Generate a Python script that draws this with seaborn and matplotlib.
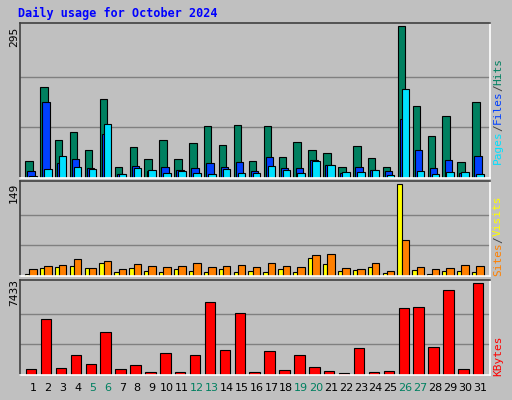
import matplotlib
matplotlib.use("Agg")
import matplotlib.pyplot as plt
import seaborn as sns
import numpy as np

days = list(range(1, 32))
hits = [33,177,73,89,55,153,21,61,37,73,37,67,101,65,103,33,101,41,69,55,49,21,63,39,21,295,139,81,121,31,147]
files = [13,147,29,37,19,85,7,23,13,21,15,19,29,21,31,13,41,19,19,35,25,9,21,15,13,115,55,19,35,9,43]
pages = [3,17,43,21,17,105,7,19,15,9,13,9,7,17,9,9,23,15,9,33,25,11,11,15,5,173,13,7,11,11,7]
visits = [3,13,15,16,13,21,6,13,8,6,11,8,6,11,6,8,6,11,6,29,19,8,10,15,5,149,10,3,8,8,6]
sites = [11,16,18,28,13,24,11,19,16,15,16,21,15,16,18,15,21,16,15,34,36,13,11,21,8,58,15,11,13,18,16]
kbytes = [515,4500,600,1650,920,3440,515,840,270,1735,270,1650,5880,1980,4990,270,1900,430,1650,680,350,190,2140,270,350,5400,5480,2220,6860,515,7433]
weekends = [5,6,12,13,19,20,26,27]

sns.set_style("white")
plt.rcParams['font.family'] = ['DejaVu Sans Mono', 'DejaVu Sans']
BG = '#C0C0C0'
fig = plt.figure(figsize=(5.12, 4.0), dpi=100, facecolor=BG)
W, H = 512, 400
def axes(x0, y0, x1, y1):
    ax = fig.add_axes([x0/W, 1-y1/H, (x1-x0)/W, (y1-y0)/H])
    ax.set_facecolor(BG)
    for s in ax.spines.values():
        s.set_color('#404040'); s.set_linewidth(1.2)
    ax.spines['bottom'].set_color('white'); ax.spines['right'].set_color('white')
    ax.set_xlim(0.13, 31.67)
    ax.set_xticks([]); ax.set_yticks([])
    return ax

x = np.array(days, dtype=float)
ec = dict(edgecolor='black', linewidth=0.8)

ax1 = axes(20, 23, 490, 178)
ax1.set_ylim(0, 295 * 1.02)
for f in (1/3, 2/3):
    ax1.axhline(295*f, color='#808080', lw=1, zorder=0)
ax1.bar(x - 0.27, hits, width=0.5, color='#008060', **ec)
ax1.bar(x - 0.13, files, width=0.5, color='#0040FF', **ec)
ax1.bar(x, pages, width=0.5, color='#00E0FF', **ec)

ax2 = axes(20, 181, 490, 276)
ax2.set_ylim(0, 149 * 1.03)
for f in (1/3, 2/3):
    ax2.axhline(149*f, color='#808080', lw=1, zorder=0)
ax2.bar(x - 0.39, visits, width=0.3, color='#FFFF00', **ec)
ax2.bar(x, sites, width=0.5, color='#FF8000', **ec)

ax3 = axes(20, 280, 490, 375)
ax3.set_ylim(0, 7433 * 1.03)
for f in (1/3, 2/3):
    ax3.axhline(7433*f, color='#808080', lw=1, zorder=0)
ax3.bar(x - 0.12, kbytes, width=0.7, color='#FF0000', **ec)

for d in days:
    ax3.text(d, -0.08, str(d), transform=ax3.get_xaxis_transform(), ha='center', va='top',
             fontsize=8, color='#008060' if d in weekends else 'black', family='DejaVu Sans')

fig.text(18/W, 1-13/H, 'Daily usage for October 2024', color='#0000FF', fontsize=8.5,
         fontweight='bold', va='center', ha='left')
for txt, yc in (('295', 37), ('149', 193), ('7433', 292)):
    fig.text(14/W, 1-yc/H, txt, rotation=90, fontsize=8, va='center', ha='center', color='black')

def rlabel(parts, ybottom):
    # parts listed bottom-to-top, text reads upward
    y = ybottom
    for t, c in parts:
        fig.text(498/W, 1-y/H, t, rotation=90, fontsize=8, color=c, va='bottom', ha='center')
        y -= len(t) * 6.6
rlabel([('Pages', '#00E0FF'), ('/', '#404040'), ('Files', '#0040FF'), ('/', '#404040'), ('Hits', '#008060')], 164)
rlabel([('Sites', '#FF8000'), ('/', '#404040'), ('Visits', '#FFFF00')], 276)
rlabel([('KBytes', '#FF0000')], 376)

fig.savefig('out.png', dpi=100, facecolor=BG)
